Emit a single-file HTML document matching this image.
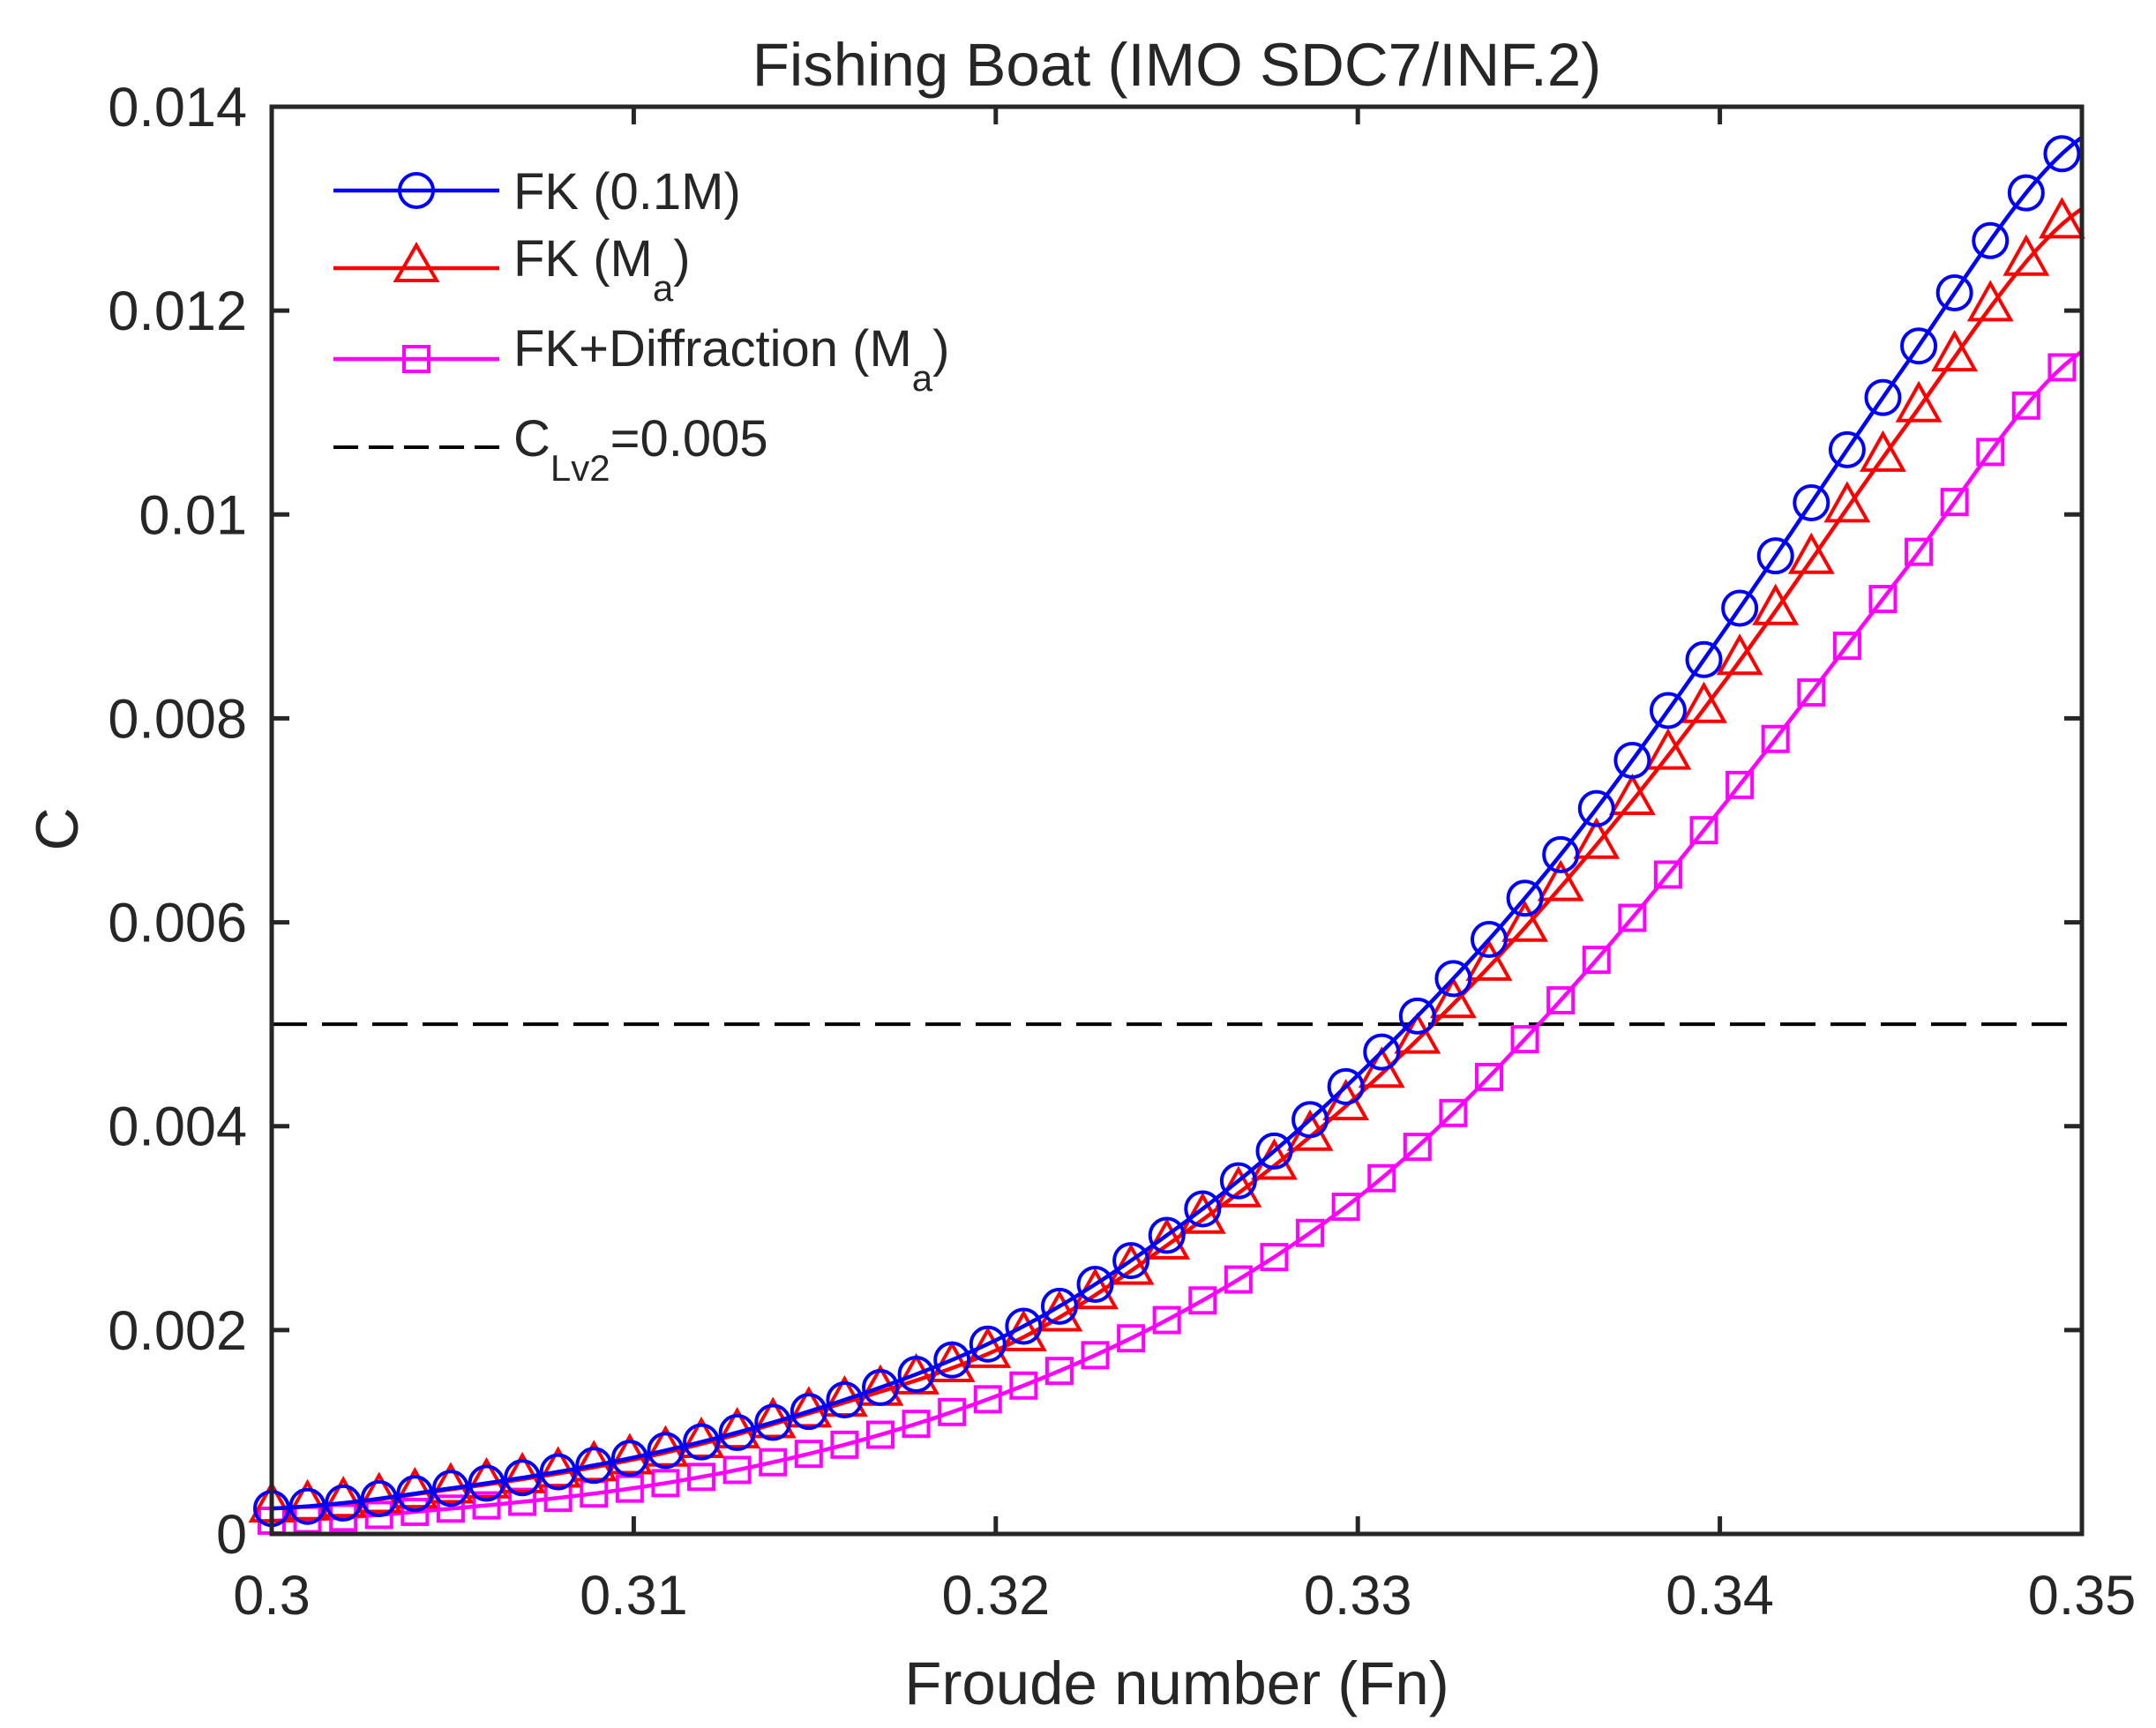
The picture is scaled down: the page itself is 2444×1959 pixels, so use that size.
<!DOCTYPE html>
<html><head><meta charset="utf-8"><style>
html,body{margin:0;padding:0;background:#fff;}
svg{display:block;}
text{font-family:"Liberation Sans",Arial,sans-serif;fill:#262626;}
</style></head><body>
<svg id="s" width="2444" height="1959" xmlns="http://www.w3.org/2000/svg">
<rect width="2444" height="1959" fill="#fff"/>
<g id="plot"></g>
<text x="1334" y="97" font-size="69" text-anchor="middle" fill="#000">Fishing Boat (IMO SDC7/INF.2)</text>
<text x="1334" y="1932" font-size="69" text-anchor="middle">Froude number (Fn)</text>
<text transform="translate(88,940) rotate(-90)" font-size="68" text-anchor="middle">C</text>
</svg>
<script>
const L=308,R=2360,T=121,B=1739;
const X=f=>L+(f-0.3)/0.05*(R-L);
const Y=c=>B-c/0.014*(B-T);
let h='';
h+=`<line x1="${L}" x2="${R}" y1="${Y(0.005)}" y2="${Y(0.005)}" stroke="#000" stroke-width="4" stroke-dasharray="40,17"/>`;
const S={
 b:[0.00025,0.00045,0.00075,0.00122,0.0019,0.003,0.0045,0.0064,0.0088,0.0114,0.0137],
 r:[0.00025,0.00044,0.00073,0.0012,0.0018,0.0029,0.0043,0.0061,0.0083,0.0108,0.0130],
 m:[0.00013,0.00025,0.00045,0.0008,0.00135,0.00215,0.0033,0.0050,0.0071,0.0094,0.0116]};
function interp(a,f){
 let t=(f-0.3)/0.005; let i=Math.min(9,Math.max(0,Math.floor(t))); let u=t-i;
 const la=a.map(Math.log);
 const p0=la[Math.max(0,i-1)],p1=la[i],p2=la[i+1],p3=la[Math.min(10,i+2)];
 const v=0.5*((2*p1)+(-p0+p2)*u+(2*p0-5*p1+4*p2-p3)*u*u+(-p0+3*p1-3*p2+p3)*u*u*u);
 return Math.exp(v);
}
const cols={b:'#0000ff',r:'#ff0000',m:'#ff00ff'};
for(const k of ['m','r','b']){
 let pts=[];for(let i=0;i<=200;i++){const f=0.3+i*0.00025;pts.push(X(f).toFixed(1)+','+Y(interp(S[k],f)).toFixed(1));}
 h+=`<polyline points="${pts.join(' ')}" fill="none" stroke="${cols[k]}" stroke-width="4.5"/>`;
 for(let i=0;i<=50;i++){const f=0.3+i*0.000989;const x=X(f),y=Y(interp(S[k],f));
  if(k==='b')h+=`<circle cx="${x}" cy="${y}" r="19" fill="none" stroke="${cols[k]}" stroke-width="4"/>`;
  else if(k==='r')h+=`<polygon points="${x},${y-27} ${x-23},${y+14} ${x+23},${y+14}" fill="none" stroke="${cols[k]}" stroke-width="4"/>`;
  else h+=`<rect x="${x-14}" y="${y-14}" width="28" height="28" fill="none" stroke="${cols[k]}" stroke-width="4"/>`;
 }
}
h+=`<rect x="${L}" y="${T}" width="${R-L}" height="${B-T}" fill="none" stroke="#262626" stroke-width="5"/>`;
for(let i=0;i<=5;i++){const x=L+i*(R-L)/5;
 h+=`<line x1="${x}" x2="${x}" y1="${B}" y2="${B-20}" stroke="#262626" stroke-width="5"/><line x1="${x}" x2="${x}" y1="${T}" y2="${T+20}" stroke="#262626" stroke-width="5"/>`;
 h+=`<text x="${x}" y="1830" font-size="63" text-anchor="middle">${['0.3','0.31','0.32','0.33','0.34','0.35'][i]}</text>`;}
for(let i=0;i<=7;i++){const y=B-i*(B-T)/7;
 h+=`<line x1="${L}" x2="${L+20}" y1="${y}" y2="${y}" stroke="#262626" stroke-width="5"/><line x1="${R}" x2="${R-20}" y1="${y}" y2="${y}" stroke="#262626" stroke-width="5"/>`;
 h+=`<text x="280" y="${y+22}" font-size="63" text-anchor="end">${['0','0.002','0.004','0.006','0.008','0.01','0.012','0.014'][i]}</text>`;}
const lx1=378,lx2=566,mx=472,tx=582;
h+=`<line x1="${lx1}" x2="${lx2}" y1="216" y2="216" stroke="#0000ff" stroke-width="4.5"/><circle cx="${mx}" cy="216" r="19" fill="none" stroke="#0000ff" stroke-width="4"/>`;
h+=`<text x="${tx}" y="237" font-size="58" fill="#000">FK (0.1M)</text>`;
h+=`<line x1="${lx1}" x2="${lx2}" y1="304" y2="304" stroke="#ff0000" stroke-width="4.5"/><polygon points="${mx},278 ${mx-23},318 ${mx+23},318" fill="none" stroke="#ff0000" stroke-width="4"/>`;
h+=`<text x="${tx}" y="313" font-size="58" fill="#000">FK (M<tspan font-size="42" dy="28">a</tspan><tspan dy="-28">)</tspan></text>`;
h+=`<line x1="${lx1}" x2="${lx2}" y1="407" y2="407" stroke="#ff00ff" stroke-width="4.5"/><rect x="${mx-14}" y="393" width="28" height="28" fill="none" stroke="#ff00ff" stroke-width="4"/>`;
h+=`<text x="${tx}" y="415" font-size="58" fill="#000">FK+Diffraction (M<tspan font-size="42" dy="28">a</tspan><tspan dy="-28">)</tspan></text>`;
h+=`<line x1="${lx1}" x2="${lx2}" y1="507" y2="507" stroke="#000" stroke-width="4" stroke-dasharray="28,12"/>`;
h+=`<text x="${tx}" y="517" font-size="58" fill="#000">C<tspan font-size="42" dy="28">Lv2</tspan><tspan dy="-28">=0.005</tspan></text>`;
document.getElementById('plot').innerHTML=h;
</script>
</body></html>
